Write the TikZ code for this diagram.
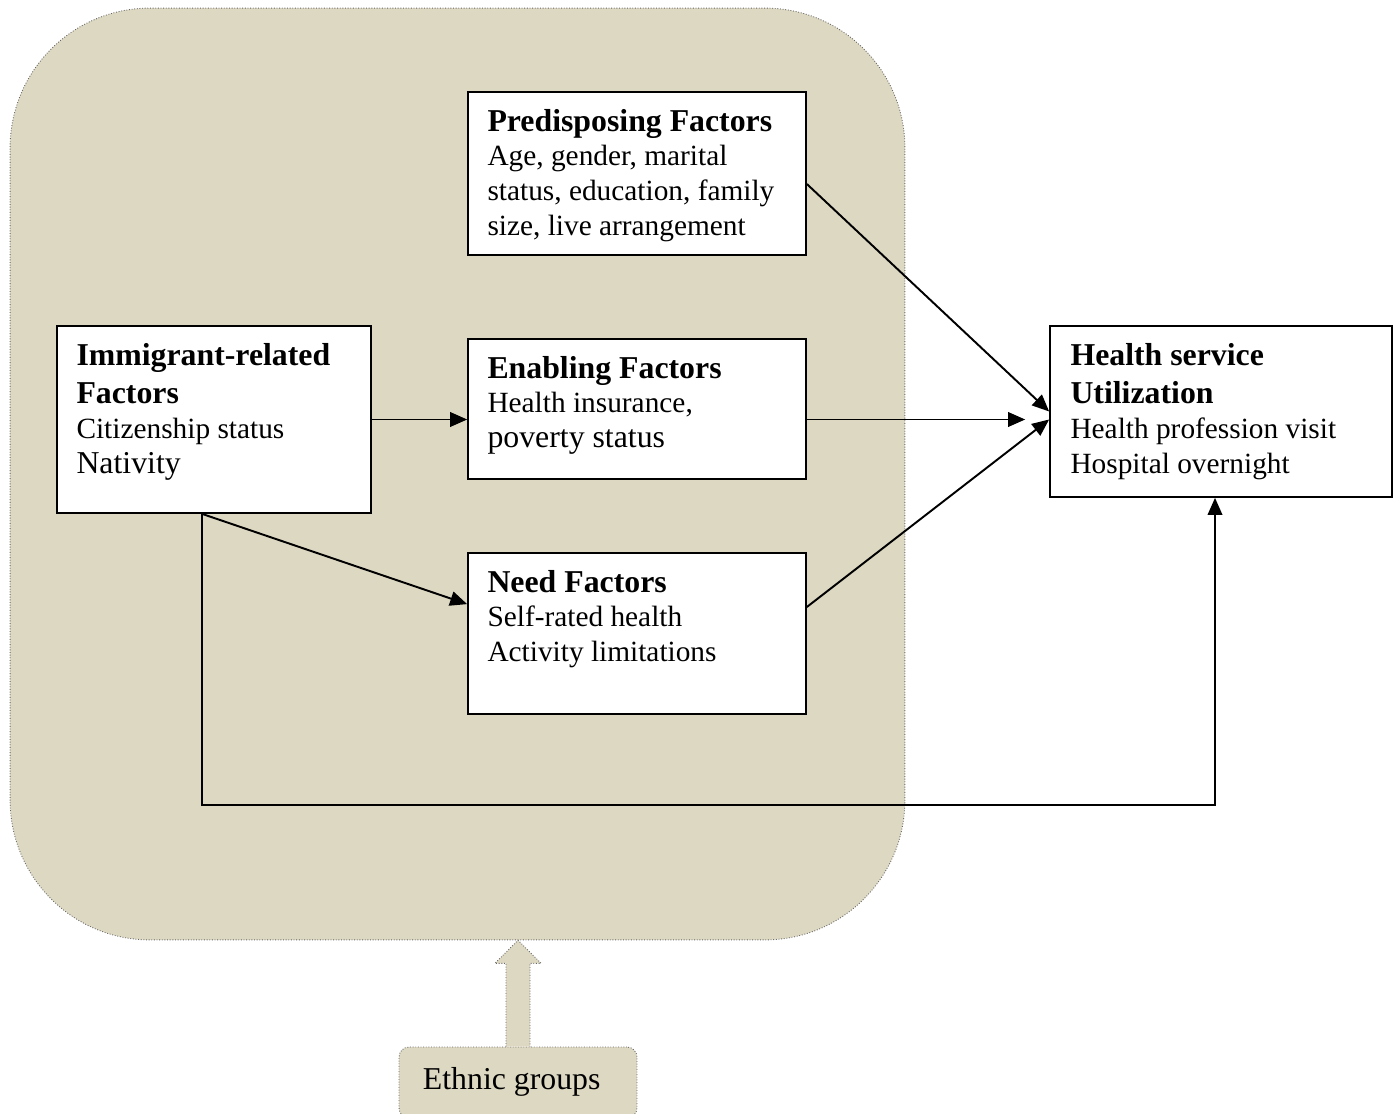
\documentclass[tikz,border=0pt]{standalone}
\usepackage{fontspec}
\setmainfont{Liberation Serif}
\usepackage{xcolor}
\usetikzlibrary{arrows.meta,calc}
\definecolor{sand}{HTML}{DDD8C2}
\newcommand\hd{\fontsize{18.1}{19.85}\selectfont\bfseries}
\newcommand\bg{\fontsize{18.1}{19.85}\selectfont}
\tikzset{
  box/.style={draw, rectangle, fill=white, line width=1pt, inner sep=0pt},
  txt/.style={anchor=north west, align=left, inner sep=0pt, font=\fontsize{16.7}{19.85}\selectfont},
  grp/.style={draw=black!60, densely dotted, line width=0.5pt, fill=sand},
  arr/.style={-{Triangle[length=3.4mm, width=2.9mm]}, line width=1.1pt},
  fat/.style={draw=black!60, densely dotted, line width=0.5pt, fill=sand}
}
\begin{document}
\begin{tikzpicture}[x=0.02cm, y=-0.02cm]
\useasboundingbox (0,0) rectangle (1400,1114);
% ethnic group context
\node[grp, rectangle, rounded corners=2.8cm, minimum width=17.9cm, minimum height=18.64cm] (ctx) at (457.5,474) {};
\node[grp, rectangle, rounded corners=0.2cm, minimum width=4.76cm, minimum height=1.42cm] (eth) at (518,1082.5) {};
\node[txt, font=\bg, anchor=base west] (ethtxt) at ([shift={(0.48cm,-0.86cm)}]eth.north west) {Ethnic groups};
\coordinate (tip) at (eth.north |- ctx.south);
\draw[fat] ([xshift=-0.24cm]eth.north) |- ([shift={(-0.46cm,-0.46cm)}]tip) -- (tip)
  -- ([shift={(0.46cm,-0.46cm)}]tip) -| ([xshift=0.24cm]eth.north);
% boxes
\node[box, minimum width=6.76cm, minimum height=3.26cm] (pre) at (637,173.5) {};
\node[box, minimum width=6.76cm, minimum height=2.80cm] (ena) at (637,409) {};
\node[box, minimum width=6.76cm, minimum height=3.22cm] (need) at (637,633.5) {};
\node[box, minimum width=6.28cm, minimum height=3.74cm] (imm) at (214,419.5) {};
\node[box, minimum width=6.84cm, minimum height=3.42cm] (hsu) at (1221,411.5) {};
% texts
\node[txt] (pretxt) at ([shift={(0.4cm,-0.35cm)}]pre.north west)
  {{\hd Predisposing Factors}\\Age, gender, marital\\status, education, family\\size, live arrangement};
\node[txt] (enatxt) at ([shift={(0.4cm,-0.35cm)}]ena.north west)
  {{\hd Enabling Factors}\\Health insurance,\\{\bg poverty status}};
\node[txt] (needtxt) at ([shift={(0.4cm,-0.35cm)}]need.north west)
  {{\hd Need Factors}\\Self-rated health\\Activity limitations};
\node[txt] (immtxt) at ([shift={(0.4cm,-0.35cm)}]imm.north west)
  {{\hd Immigrant-related}\\[2pt]{\hd Factors}\\Citizenship status\\{\bg Nativity}};
\node[txt] (hsutxt) at ([shift={(0.42cm,-0.35cm)}]hsu.north west)
  {{\hd Health service}\\[2pt]{\hd Utilization}\\Health profession visit\\Hospital overnight};
% connectors
\coordinate (split) at ([xshift=-0.24cm]imm.south);
\coordinate (hin) at ([xshift=-0.48cm]hsu.west |- imm.east);
\draw[arr] (imm.east) -- (imm.east -| ena.west);
\draw[arr] (ena.east |- imm.east) -- (hin);
\draw[arr] ([yshift=-0.21cm]pre.east) -- (hsu.west);
\draw[arr] ([yshift=0.53cm]need.east) -- ([yshift=-0.16cm]hsu.west);
\draw[arr] (split) -- ([yshift=-1.04cm]need.north west);
\draw[arr] (split) -- ++(0,-5.82cm) -| ([xshift=-0.12cm]hsu.south);
\end{tikzpicture}
\end{document}
